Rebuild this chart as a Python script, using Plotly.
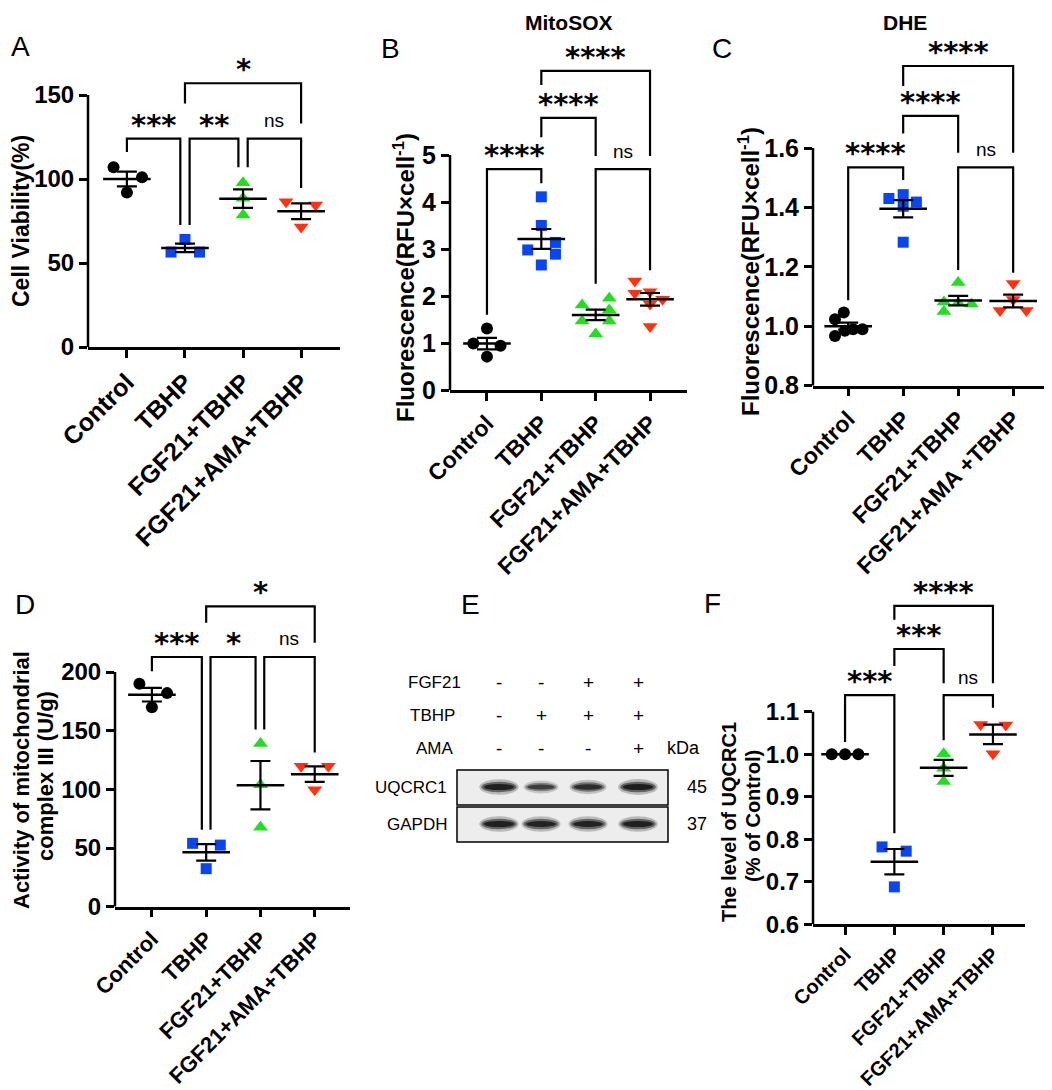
import numpy as np
import plotly.graph_objects as go

# reference canvas; the page body adds an 8px margin, so the figure is drawn 8px smaller
W, H = 1052, 1090
OFF = 8
FW, FH = W - OFF, H - OFF
FONT = "Liberation Sans"
STAR_FONT = "DejaVu Sans"

groups = ["Control", "TBHP", "FGF21+TBHP", "FGF21+AMA+TBHP"]
groups_C = ["Control", "TBHP", "FGF21+TBHP", "FGF21+AMA +TBHP"]

# ---------------- data ----------------
# A: Cell Viability (%)
A_control = [107, 101, 92]
A_tbhp = [64, 56.5, 56.5]
A_fgf21 = [97.8, 88.5, 78.6]
A_ama = [86.5, 84.5, 71.5]
A_ticks = [0, 50, 100, 150]

# B: MitoSOX fluorescence
B_control = [1.31, 0.99, 0.94, 0.71]
B_tbhp = [4.11, 3.50, 3.14, 2.98, 2.89, 2.66]
B_fgf21 = [1.95, 1.81, 1.70, 1.47, 1.47, 1.19]
B_ama = [2.32, 2.06, 2.09, 1.93, 1.83, 1.35]
B_ticks = [0, 1, 2, 3, 4, 5]

# C: DHE fluorescence
C_control = [1.046, 1.024, 0.967, 0.985, 0.990, 0.990]
C_tbhp = [1.430, 1.443, 1.418, 1.404, 1.283]
C_fgf21 = [1.147, 1.082, 1.078, 1.075, 1.050]
C_ama = [1.144, 1.090, 1.053, 1.053]
C_ticks = [0.8, 1.0, 1.2, 1.4, 1.6]

# D: complex III activity (U/g)
D_control = [190, 182, 170]
D_tbhp = [54, 52.5, 32.4]
D_fgf21 = [139, 104, 67.6]
D_ama = [119.6, 119.6, 99.7]
D_ticks = [0, 50, 100, 150, 200]

# F: UQCRC1 level (% of control)
F_control = [1.0, 1.0, 1.0]
F_tbhp = [0.782, 0.772, 0.688]
F_fgf21 = [1.001, 0.967, 0.936]
F_ama = [1.070, 1.069, 1.001]
F_ticks = [0.6, 0.7, 0.8, 0.9, 1.0, 1.1]

# significance brackets: (group i, group j, top, left leg end, right leg end, label)
A_sig = [(0, 1, 124, 116, 72.6, "***"), (1, 2, 124, 72.6, 107, "**"),
         (2, 3, 124, 107, 94.6, "ns"), (1, 3, 157, 145, 133, "*")]
B_sig = [(0, 1, 4.70, 1.6, 4.4, "****"), (1, 2, 5.79, 5.38, 4.98, "****"),
         (2, 3, 4.70, 2.26, 2.55, "ns"), (1, 3, 6.79, 6.49, 4.98, "****")]
C_sig = [(0, 1, 1.535, 1.088, 1.492, "****"), (1, 2, 1.708, 1.649, 1.584, "****"),
         (2, 3, 1.535, 1.189, 1.18, "ns"), (1, 3, 1.876, 1.809, 1.584, "****")]
D_sig = [(0, 1, 212.8, 200.6, 65.6, "***"), (1, 2, 212.8, 65.6, 151, "*"),
         (2, 3, 212.8, 151, 131.5, "ns"), (1, 3, 256, 242, 225, "*")]
F_sig = [(0, 1, 1.139, 1.029, 0.814, "***"), (1, 2, 1.2475, 1.2075, 1.167, "***"),
         (2, 3, 1.139, 1.033, 1.109, "ns"), (1, 3, 1.349, 1.316, 1.167, "****")]

# Western blot (E)
wb_rows = ["FGF21", "TBHP", "AMA"]
wb_signs = [["-", "-", "+", "+"], ["-", "+", "+", "+"], ["-", "-", "-", "+"]]
wb_bands = ["UQCRC1", "GAPDH"]
wb_kda = ["45", "37"]
wb_intensity = [[0.95, 0.70, 0.82, 0.97], [0.95, 0.93, 0.93, 0.95]]

# ---------------- layout / style ----------------
COLORS = ["#000000", "#0a46f0", "#22dd22", "#ff3311"]
SYMBOLS = ["circle", "square", "triangle-up", "triangle-down"]
SIZES = [12, 11, 13, 13]
LW = 2.5


def fx(px):
    return (px - OFF) / FW


def fy(py):
    return 1 - (py - OFF) / FH


# jitter of points inside each column (category units)
A_jit = [[-0.23, 0.26, 0], [0, -0.24, 0.25], [0, 0, 0], [-0.26, 0.25, 0]]
B_jit = [[0, -0.25, 0.25, 0], [0, 0, 0.26, -0.25, 0.26, 0],
         [0.25, -0.25, 0.25, -0.25, 0.25, 0], [-0.28, -0.28, 0, 0.23, 0, 0]]
C_jit = [[-0.08, -0.24, -0.24, -0.06, 0.09, 0.26], [-0.26, 0, 0.24, 0, 0],
         [0, -0.26, 0, 0.24, -0.26], [0, 0, -0.24, 0.24]]
D_jit = [[-0.23, 0.28, 0], [-0.25, 0.26, 0], [0, 0, 0], [-0.25, 0.25, 0]]
F_jit = [[-0.27, 0, 0.27], [-0.25, 0.24, 0], [0, 0, 0], [-0.25, 0.26, 0]]

# bracket leg offsets for adjacent brackets sharing a column
A_off = [(0, -0.08), (0.08, -0.08), (0.08, 0), (0, 0)]
D_off = [(0, -0.08), (0.08, -0.09), (0.07, 0), (0, 0)]
NO_OFF = [(0, 0)] * 4

panels = [
    dict(n="", data=[A_control, A_tbhp, A_fgf21, A_ama], jit=A_jit, ticks=A_ticks, fmt="{:g}",
         xr=[-0.67, 3.67], xpx=(88, 340), ybot=347, ytop=95, ylo=0, yhi=150, yext=175,
         names=groups, tfs=24, xfs=25, sig=A_sig, off=A_off),
    dict(n="2", data=[B_control, B_tbhp, B_fgf21, B_ama], jit=B_jit, ticks=B_ticks, fmt="{:g}",
         xr=[-0.68, 3.68], xpx=(450, 687), ybot=390, ytop=155, ylo=0, yhi=5, yext=7.6,
         names=groups, tfs=25, xfs=23, sig=B_sig, off=NO_OFF),
    dict(n="3", data=[C_control, C_tbhp, C_fgf21, C_ama], jit=C_jit, ticks=C_ticks, fmt="{:.1f}",
         xr=[-0.64, 3.67], xpx=(813, 1050), ybot=385.7, ytop=148, ylo=0.8, yhi=1.6, yext=1.98,
         names=groups_C, tfs=25, xfs=23, sig=C_sig, off=NO_OFF),
    dict(n="4", data=[D_control, D_tbhp, D_fgf21, D_ama], jit=D_jit, ticks=D_ticks, fmt="{:g}",
         xr=[-0.68, 3.65], xpx=(115, 350), ybot=906.7, ytop=672, ylo=0, yhi=200, yext=280,
         names=groups, tfs=24, xfs=22, sig=D_sig, off=D_off),
    dict(n="5", data=[F_control, F_tbhp, F_fgf21, F_ama], jit=F_jit, ticks=F_ticks, fmt="{:.1f}",
         xr=[-0.65, 3.65], xpx=(813, 1025), ybot=924.3, ytop=711.7, ylo=0.6, yhi=1.1, yext=1.40,
         names=groups, tfs=24, xfs=20, sig=F_sig, off=NO_OFF),
]

fig = go.Figure()
shapes, annotations = [], []
layout = {}

for p in panels:
    xa, ya = "x" + p["n"], "y" + p["n"]
    scale = (p["ybot"] - p["ytop"]) / (p["yhi"] - p["ylo"])
    top_px = p["ybot"] - (p["yext"] - p["ylo"]) * scale
    xdom = [fx(p["xpx"][0]), fx(p["xpx"][1])]
    ydom = [fy(p["ybot"]), fy(top_px)]

    for g, vals in enumerate(p["data"]):
        fig.add_trace(go.Scatter(
            x=[g + d for d in p["jit"][g]], y=vals, mode="markers", xaxis=xa, yaxis=ya,
            marker=dict(symbol=SYMBOLS[g], color=COLORS[g], size=SIZES[g], line=dict(width=0)),
            cliponaxis=False, showlegend=False, hoverinfo="skip"))
    for g, vals in enumerate(p["data"]):
        v = np.array(vals, dtype=float)
        sem = v.std(ddof=1) / np.sqrt(len(v))
        fig.add_trace(go.Scatter(
            x=[g], y=[v.mean()], mode="markers", xaxis=xa, yaxis=ya,
            marker=dict(symbol="line-ew", size=34, color="black", line=dict(color="black", width=LW)),
            error_y=dict(type="data", array=[sem], width=10, thickness=2.2, color="black"),
            cliponaxis=False, showlegend=False, hoverinfo="skip"))

    layout["xaxis" + p["n"]] = dict(
        domain=xdom, range=p["xr"], anchor=ya, tickvals=[0, 1, 2, 3], ticktext=p["names"],
        tickangle=-45, ticks="outside", ticklen=8, tickwidth=LW, tickcolor="black",
        showline=True, linewidth=LW, linecolor="black", showgrid=False, zeroline=False,
        automargin=False,
        tickfont=dict(family=FONT, size=p["xfs"], color="black", weight="bold"))
    layout["yaxis" + p["n"]] = dict(
        domain=ydom, range=[p["ylo"], p["yext"]], anchor=xa, tickvals=p["ticks"],
        ticktext=[p["fmt"].format(t) for t in p["ticks"]],
        ticks="outside", ticklen=8, tickwidth=LW, tickcolor="black",
        showline=False, showgrid=False, zeroline=False, automargin=False,
        tickfont=dict(family=FONT, size=p["tfs"], color="black", weight="bold"))

    # visible y axis line only over the data range
    shapes.append(dict(type="line", xref=xa + " domain", yref=ya, x0=0, x1=0,
                       y0=p["ylo"], y1=p["yhi"], line=dict(color="black", width=LW)))

    for (i, j, top, lb, rb, lab), (di, dj) in zip(p["sig"], p["off"]):
        x1, x2 = i + di, j + dj
        shapes.append(dict(type="path", xref=xa, yref=ya,
                           path=f"M {x1} {lb} L {x1} {top} L {x2} {top} L {x2} {rb}",
                           line=dict(color="black", width=2.2)))
        if lab == "ns":
            annotations.append(dict(x=(x1 + x2) / 2, y=top, xref=xa, yref=ya, text="ns",
                                    showarrow=False, yanchor="middle", yshift=18,
                                    font=dict(family=FONT, size=19, color="black")))
        else:
            annotations.append(dict(x=(x1 + x2) / 2, y=top, xref=xa, yref=ya, text=lab,
                                    showarrow=False, yanchor="middle", yshift=14,
                                    font=dict(family=STAR_FONT, size=29, color="black", weight="bold")))

# ---------------- Western blot panel (E) ----------------
layout["xaxis6"] = dict(domain=[fx(380), fx(720)], range=[380, 720], visible=False, anchor="y6",
                        automargin=False)
layout["yaxis6"] = dict(domain=[fy(850), fy(660)], range=[850, 660], visible=False, anchor="x6",
                        automargin=False)
lane_x = [499, 541, 588, 638]
row_y = [682, 715, 748]
row_right = [463, 457, 456]
band_y = [787, 824]
band_right = [449, 449]
box_y = [(770, 805), (807, 842)]
for r, name in enumerate(wb_rows):
    annotations.append(dict(x=row_right[r], y=row_y[r], xref="x6", yref="y6", text=name, showarrow=False,
                            xanchor="right", font=dict(family=FONT, size=17, color="black")))
    for k, s in enumerate(wb_signs[r]):
        annotations.append(dict(x=lane_x[k], y=row_y[r], xref="x6", yref="y6", text=s, showarrow=False,
                                font=dict(family=FONT, size=19, color="black")))
annotations.append(dict(x=683, y=row_y[2], xref="x6", yref="y6", text="kDa", showarrow=False,
                        font=dict(family=FONT, size=18, color="black")))
for b, name in enumerate(wb_bands):
    y0, y1 = box_y[b]
    shapes.append(dict(type="rect", xref="x6", yref="y6", x0=457, x1=668, y0=y0, y1=y1,
                       fillcolor="#ededed", line=dict(color="black", width=1.5), layer="below"))
    annotations.append(dict(x=band_right[b], y=band_y[b], xref="x6", yref="y6", text=name, showarrow=False,
                            xanchor="right", font=dict(family=FONT, size=17, color="black")))
    annotations.append(dict(x=697, y=band_y[b], xref="x6", yref="y6", text=wb_kda[b], showarrow=False,
                            font=dict(family=FONT, size=18, color="black")))
    for k, a in enumerate(wb_intensity[b]):
        w = 20 + 16 * a
        h = 3 + 6 * a
        for sw, sh, op in [(1.12, 1.8, 0.25 * a), (1.0, 1.2, 0.55 * a), (0.85, 0.7, 0.9 * a)]:
            shapes.append(dict(type="circle", xref="x6", yref="y6",
                               x0=lane_x[k] - w * sw / 2, x1=lane_x[k] + w * sw / 2,
                               y0=band_y[b] - h * sh / 2, y1=band_y[b] + h * sh / 2,
                               fillcolor="#151515", opacity=op, line=dict(width=0)))


# ---------------- titles / letters ----------------
def pa(x, y, text, size, bold=False, angle=0):
    annotations.append(dict(x=fx(x), y=fy(y), xref="paper", yref="paper", text=text,
                            showarrow=False, textangle=angle, xanchor="center", yanchor="middle",
                            font=dict(family=FONT, size=size, color="black",
                                      weight="bold" if bold else "normal")))


for letter, (lx, ly) in zip("ABCDEF", [(20, 46), (390, 48), (722, 48), (25, 604), (470, 604), (712, 603)]):
    pa(lx, ly, letter, 28)
pa(569, 22, "MitoSOX", 21, True)
pa(905, 22, "DHE", 21, True)
pa(21, 221, "Cell Viability(%)", 23, True, -90)
pa(404, 278, "Fluorescence(RFU×cell<sup>-1</sup>)", 24, True, -90)
pa(749, 272, "Fluorescence(RFU×cell<sup>-1</sup>)", 24, True, -90)
pa(21, 780, "Activity of mitochondrial", 22, True, -90)
pa(45, 776, "complex III (U/g)", 22, True, -90)
pa(729, 822, "The level of UQCRC1", 20, True, -90)
pa(753, 816, "(% of Control)", 20, True, -90)

fig.update_layout(width=FW, height=FH, margin=dict(l=0, r=0, t=0, b=0),
                  paper_bgcolor="white", plot_bgcolor="white", showlegend=False,
                  shapes=shapes, annotations=annotations, **layout)
fig.write_html("out.html")
